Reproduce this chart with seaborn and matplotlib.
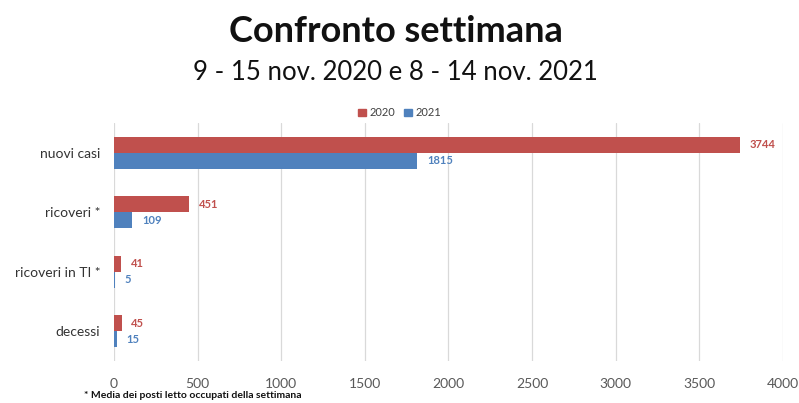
import matplotlib
matplotlib.use("Agg")
import matplotlib.pyplot as plt
import seaborn as sns
import pandas as pd
from matplotlib.patches import Patch

categories = ["nuovi casi", "ricoveri *", "ricoveri in TI *", "decessi"]
values_2020 = [3744, 451, 41, 45]
values_2021 = [1815, 109, 5, 15]
years = ["2020", "2021"]
xticks = [0, 500, 1000, 1500, 2000, 2500, 3000, 3500, 4000]

RED = "#C0504D"
BLUE = "#4F81BD"

df = pd.DataFrame({
    "categoria": categories * 2,
    "valore": values_2020 + values_2021,
    "anno": [years[0]] * len(categories) + [years[1]] * len(categories),
})

sns.set_theme(style="white")
plt.rcParams["font.family"] = ["Lato", "DejaVu Sans"]

fig = plt.figure(figsize=(7.99, 4.03), dpi=100)
ax = fig.add_axes([0.1427, 0.104, 0.837, 0.591])

sns.barplot(data=df, y="categoria", x="valore", hue="anno", order=categories,
            hue_order=years, palette=[RED, BLUE], orient="h", width=0.54,
            saturation=1, ax=ax, legend=False, edgecolor="none")

for cont, col in zip(ax.containers, [RED, BLUE]):
    ax.bar_label(cont, labels=[str(int(v)) for v in cont.datavalues], padding=7,
                 color=col, fontsize=8, fontweight="bold")

ax.set_xlim(0, 4000)
ax.set_ylim(3.5, -0.5)
ax.set_xticks(xticks)
ax.set_xticklabels([str(t) for t in xticks], color="#595959", fontsize=10)
ax.tick_params(axis="x", length=0, pad=12)
ax.tick_params(axis="y", length=0, pad=10)
ax.set_yticklabels(categories, color="#333333", fontsize=10)
ax.set_xlabel("")
ax.set_ylabel("")
ax.grid(axis="x", color="#D9D9D9", linewidth=0.9)
ax.set_axisbelow(True)
for s in ax.spines.values():
    s.set_visible(False)

fig.text(0.495, 0.922, "Confronto settimana", ha="center", va="center",
         fontsize=26, fontweight="bold", color="#111111")
fig.text(0.495, 0.82, "9 - 15 nov. 2020 e 8 - 14 nov. 2021", ha="center",
         va="center", fontsize=18.5, color="#111111")

handles = [Patch(color=RED, label=years[0]), Patch(color=BLUE, label=years[1])]
fig.legend(handles=handles, loc="center", bbox_to_anchor=(0.5, 0.72), ncol=2,
           frameon=False, fontsize=8, handlelength=0.7, handleheight=0.7,
           handletextpad=0.3, columnspacing=0.8, labelcolor="#404040")

fig.text(0.105, 0.018, "* Media dei posti letto occupati della settimana",
         ha="left", va="center", fontsize=7.5, fontweight="bold", color="#111111")

fig.savefig("out.png", dpi=100, facecolor="white")
